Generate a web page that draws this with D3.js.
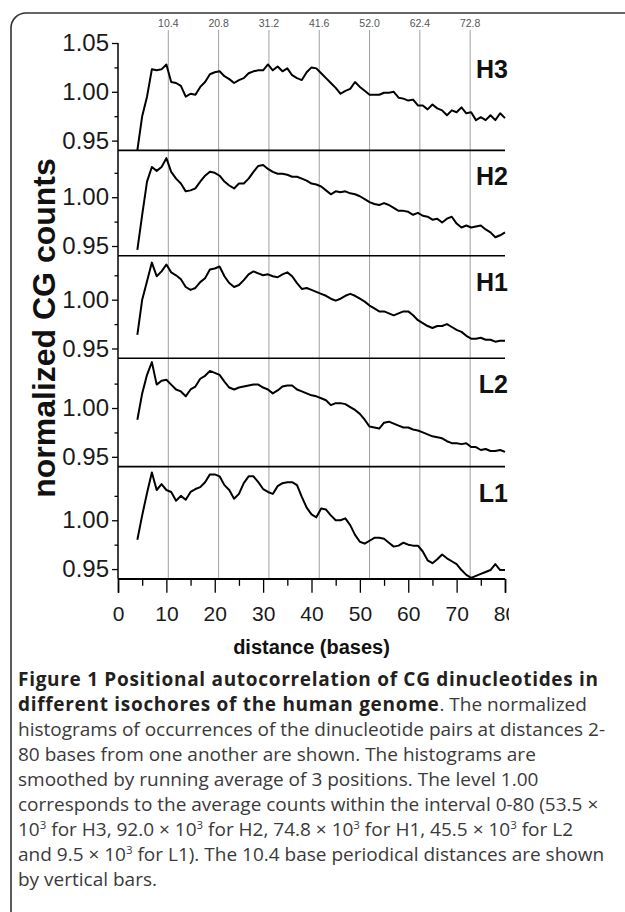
<!DOCTYPE html>
<html><head><meta charset="utf-8">
<script src="https://cdn.jsdelivr.net/npm/d3@7"></script>
<style>body{margin:0;background:#fff}svg{display:block}</style>
</head><body>
<svg id="chart" width="625" height="912"></svg>
<script>
// ---------------- data ----------------
const distances = [4,5,6,7,8,9,10,11,12,13,14,15,16,17,18,19,20,21,22,23,24,25,26,27,28,29,30,31,32,33,34,35,36,37,38,39,40,41,42,43,44,45,46,47,48,49,50,51,52,53,54,55,56,57,58,59,60,61,62,63,64,65,66,67,68,69,70,71,72,73,74,75,76,77,78,79,80];

const H3 = [0.940,0.975,0.995,1.023,1.022,1.023,1.028,1.010,1.009,1.006,0.995,0.998,0.997,1.005,1.010,1.018,1.020,1.021,1.016,1.013,1.009,1.012,1.014,1.019,1.021,1.022,1.022,1.028,1.022,1.026,1.021,1.024,1.017,1.014,1.012,1.020,1.025,1.024,1.019,1.014,1.009,1.004,0.998,1.001,1.003,1.010,1.005,1.001,0.997,0.997,0.997,0.999,0.999,1.000,0.994,0.993,0.991,0.992,0.986,0.986,0.982,0.987,0.983,0.981,0.976,0.981,0.979,0.984,0.978,0.979,0.971,0.974,0.971,0.976,0.971,0.978,0.973];

const H2 = [0.946,0.982,1.016,1.031,1.027,1.031,1.040,1.026,1.019,1.014,1.006,1.007,1.009,1.016,1.022,1.026,1.025,1.022,1.016,1.012,1.009,1.014,1.014,1.019,1.026,1.032,1.033,1.029,1.026,1.024,1.024,1.023,1.021,1.021,1.019,1.017,1.014,1.013,1.011,1.007,1.003,1.006,1.005,1.006,1.004,1.003,1.001,0.998,0.995,0.993,0.992,0.994,0.992,0.989,0.986,0.986,0.985,0.982,0.984,0.981,0.980,0.977,0.978,0.974,0.978,0.980,0.973,0.969,0.971,0.969,0.970,0.971,0.967,0.964,0.959,0.961,0.964];

const H1 = [0.964,1.000,1.019,1.038,1.024,1.029,1.036,1.028,1.025,1.021,1.013,1.010,1.012,1.018,1.022,1.031,1.032,1.034,1.024,1.017,1.013,1.015,1.020,1.026,1.029,1.027,1.025,1.026,1.024,1.023,1.026,1.028,1.024,1.017,1.011,1.012,1.010,1.008,1.006,1.004,1.001,0.999,1.001,1.004,1.006,1.004,1.001,0.998,0.994,0.991,0.988,0.988,0.986,0.984,0.986,0.988,0.988,0.984,0.979,0.976,0.973,0.971,0.973,0.973,0.975,0.972,0.969,0.967,0.963,0.960,0.960,0.961,0.959,0.959,0.957,0.958,0.958];

const L2 = [0.988,1.015,1.034,1.047,1.024,1.028,1.029,1.024,1.019,1.017,1.012,1.019,1.022,1.030,1.033,1.038,1.036,1.034,1.027,1.021,1.019,1.021,1.022,1.023,1.024,1.024,1.021,1.019,1.015,1.018,1.022,1.023,1.023,1.019,1.017,1.015,1.013,1.012,1.010,1.008,1.003,1.005,1.005,1.004,1.001,0.998,0.994,0.988,0.981,0.980,0.979,0.985,0.986,0.984,0.982,0.980,0.980,0.978,0.977,0.975,0.973,0.971,0.970,0.969,0.966,0.964,0.964,0.963,0.964,0.960,0.960,0.957,0.958,0.956,0.956,0.957,0.955];

const L1 = [0.980,1.005,1.028,1.049,1.031,1.037,1.031,1.029,1.020,1.025,1.021,1.029,1.032,1.034,1.039,1.047,1.047,1.045,1.036,1.031,1.022,1.027,1.038,1.045,1.045,1.039,1.032,1.029,1.027,1.035,1.038,1.039,1.039,1.036,1.024,1.013,1.006,1.003,1.012,1.011,1.005,1.000,1.000,1.002,0.995,0.985,0.978,0.976,0.979,0.982,0.982,0.981,0.977,0.973,0.974,0.977,0.975,0.974,0.974,0.968,0.959,0.956,0.960,0.965,0.961,0.958,0.955,0.949,0.944,0.941,0.943,0.945,0.947,0.949,0.955,0.949,0.949];

const panelNames = ["H3","H2","H1","L2","L1"];
const panelSeries = [H3, H2, H1, L2, L1];
const panelTopValue = [1.050, 1.048, 1.045, 1.051, 1.055];
const panelBottomValue = 0.94;

const periodValues = [10.4, 20.8, 31.2, 41.6, 52.0, 62.4, 72.8];
const periodLabels = ["10.4","20.8","31.2","41.6","52.0","62.4","72.8"];
const xMajorTicks = [0,10,20,30,40,50,60,70,80];
const xMinorTicks = [5,15,25,35,45,55,65,75];
const yMajorTicksTop = [0.95, 1.00, 1.05];
const yMajorTicks = [0.95, 1.00];
const yMinorTicks = [0.975, 1.025];

const xTitle = "distance (bases)";
const yTitle = "normalized CG counts";

// ---------------- drawing ----------------
const svg = d3.select("#chart");
const left = 118, right = 505, plotTop = 43;
const pxPerUnit = 976;
const axisFont = "Liberation Sans, Arial, sans-serif";

// frame
svg.append("rect").attr("x", 11).attr("y", 13).attr("width", 650).attr("height", 930)
  .attr("rx", 15).attr("fill", "none").attr("stroke", "#333").attr("stroke-width", 1.6);

const x = d3.scaleLinear().domain([0, 80]).range([left, right]);

// panel geometry
let cursor = plotTop;
const panels = panelNames.map((name, i) => {
  const h = (panelTopValue[i] - panelBottomValue) * pxPerUnit;
  const p = {name, series: panelSeries[i], top: cursor, bottom: cursor + h};
  p.y = d3.scaleLinear().domain([panelBottomValue, panelTopValue[i]]).range([p.bottom, p.top]);
  cursor += h;
  return p;
});
const plotBottom = cursor;

// periodic vertical bars
svg.append("g").selectAll("line").data(periodValues).join("line")
  .attr("x1", d => x(d)).attr("x2", d => x(d))
  .attr("y1", 30).attr("y2", plotBottom)
  .attr("stroke", "#a0a0a0").attr("stroke-width", 1);
svg.append("g").selectAll("text").data(periodValues).join("text")
  .attr("x", d => x(d)).attr("y", 27)
  .attr("text-anchor", "middle")
  .attr("font-family", axisFont)
  .attr("font-size", 10.5).attr("fill", "#555")
  .text((d, i) => periodLabels[i]);

const line = d3.line().x((d, i) => x(distances[i]));

panels.forEach((p, i) => {
  const g = svg.append("g");
  g.append("line").attr("x1", left).attr("x2", right)
    .attr("y1", p.bottom).attr("y2", p.bottom)
    .attr("stroke", "#000").attr("stroke-width", 1.6);
  g.append("path").datum(p.series)
    .attr("d", line.y(d => p.y(d)))
    .attr("fill", "none").attr("stroke", "#000").attr("stroke-width", 2)
    .attr("stroke-linejoin", "round");
  const ax = g.append("g").attr("transform", `translate(${left},0)`)
    .call(d3.axisLeft(p.y).tickValues(i === 0 ? yMajorTicksTop : yMajorTicks)
      .tickSize(6).tickPadding(3).tickFormat(d3.format(".2f")));
  ax.select(".domain").remove();
  ax.selectAll("line").attr("stroke", "#000").attr("stroke-width", 1.3);
  ax.selectAll("text").attr("font-family", axisFont)
    .attr("font-size", 24).attr("fill", "#1a1a1a");
  const mi = g.append("g").attr("transform", `translate(${left},0)`)
    .call(d3.axisLeft(p.y).tickValues(yMinorTicks).tickSize(3.5).tickFormat(""));
  mi.select(".domain").remove();
  mi.selectAll("line").attr("stroke", "#000").attr("stroke-width", 1.3);
  g.append("text").attr("x", 508).attr("y", p.top + 35)
    .attr("text-anchor", "end")
    .attr("font-family", axisFont)
    .attr("font-weight", "bold").attr("font-size", 25).attr("fill", "#111")
    .text(p.name);
});

svg.append("line").attr("x1", left).attr("x2", left)
  .attr("y1", plotTop).attr("y2", plotBottom)
  .attr("stroke", "#000").attr("stroke-width", 1.5);

// x axis
svg.append("clipPath").attr("id", "figclip").append("rect")
  .attr("x", 0).attr("y", 0).attr("width", 509).attr("height", 912);
const xa = svg.append("g").attr("transform", `translate(0,${plotBottom})`)
  .attr("clip-path", "url(#figclip)")
  .call(d3.axisBottom(x).tickValues(xMajorTicks).tickSize(14).tickPadding(13).tickFormat(d3.format("d")));
xa.select(".domain").attr("stroke", "#000").attr("stroke-width", 1.6);
xa.selectAll("line").attr("stroke", "#000").attr("stroke-width", 1.3);
xa.selectAll("text").attr("font-family", axisFont)
  .attr("font-size", 21).attr("fill", "#1a1a1a");
const xm = svg.append("g").attr("transform", `translate(0,${plotBottom})`)
  .call(d3.axisBottom(x).tickValues(xMinorTicks).tickSize(7).tickFormat(""));
xm.select(".domain").remove();
xm.selectAll("line").attr("stroke", "#000").attr("stroke-width", 1.3);

svg.append("text").attr("x", (left + right) / 2).attr("y", 654)
  .attr("text-anchor", "middle")
  .attr("font-family", axisFont)
  .attr("font-weight", "bold").attr("font-size", 20).attr("fill", "#111")
  .text(xTitle);
svg.append("text").attr("transform", "translate(55,328) rotate(-90)")
  .attr("text-anchor", "middle")
  .attr("font-family", axisFont)
  .attr("font-weight", "bold").attr("font-size", 32).attr("fill", "#111")
  .text(yTitle);

// caption
const capFont = "Open Sans, Noto Sans, sans-serif";
const capLines = [
  [{t:"Figure 1 Positional autocorrelation of CG dinucleotides in", b:true}],
  [{t:"different isochores of the human genome", b:true},{t:". The normalized"}],
  [{t:"histograms of occurrences of the dinucleotide pairs at distances 2-"}],
  [{t:"80 bases from one another are shown. The histograms are"}],
  [{t:"smoothed by running average of 3 positions. The level 1.00"}],
  [{t:"corresponds to the average counts within the interval 0-80 (53.5 \u00d7"}],
  [{t:"10"},{t:"3",s:true},{t:" for H3, 92.0 \u00d7 10"},{t:"3",s:true},{t:" for H2, 74.8 \u00d7 10"},{t:"3",s:true},{t:" for H1, 45.5 \u00d7 10"},{t:"3",s:true},{t:" for L2"}],
  [{t:"and 9.5 \u00d7 10"},{t:"3",s:true},{t:" for L1). The 10.4 base periodical distances are shown"}],
  [{t:"by vertical bars."}]
];
const cap = svg.append("g").attr("font-family", capFont).attr("font-size", 19).attr("fill", "#3a3a3a");
capLines.forEach((ln, i) => {
  const t = cap.append("text").attr("x", 18).attr("y", 686 + i * 25);
  ln.forEach(seg => {
    const ts = t.append("tspan").text(seg.t);
    if (seg.b) ts.attr("font-weight", "bold").attr("fill", "#231f20").attr("letter-spacing", 0.7);
    if (seg.s) ts.attr("baseline-shift", "super").attr("font-size", 11.5);
  });
});
</script>
</body></html>
